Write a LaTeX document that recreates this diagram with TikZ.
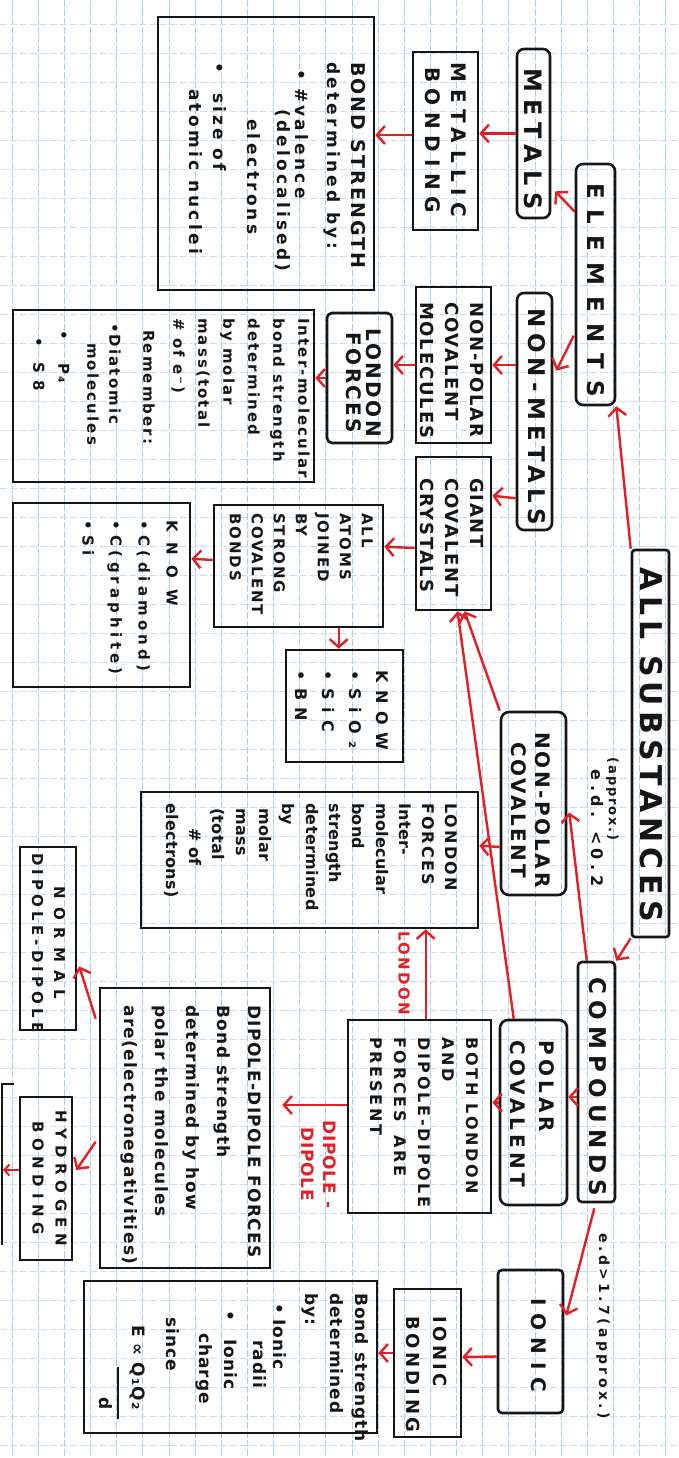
\documentclass[tikz,border=0pt]{standalone}
\usepackage{fontspec}
\setmainfont{DejaVu Sans}
\usetikzlibrary{arrows.meta,calc}
\definecolor{pen}{RGB}{22,22,22}
\definecolor{redpen}{RGB}{228,30,36}
\definecolor{gridblue}{RGB}{172,205,230}
\newcommand\hf[3]{\bfseries\fontsize{#1}{#2}\selectfont\addfontfeatures{LetterSpace=#3}}
\begin{document}
\begin{tikzpicture}[x=1pt,y=-1pt,
  box/.style={draw=pen,line width=2.6pt,inner sep=0pt},
  rbox/.style={box,rounded corners=6pt},
  txt/.style={rotate=-90,inner sep=0pt,text=pen},
  ltxt/.style={txt,align=left,anchor=north west},
  ctxt/.style={txt,align=center},
  arr/.style={draw=redpen,line width=2.4pt,-{Straight Barb[length=8pt,width=18pt]}},
  sarr/.style={draw=redpen,line width=2pt,-{Straight Barb[length=5pt,width=11pt]}},
  lbl/.style={rotate=-90,inner sep=0pt,text=redpen},
  gridv/.style={draw=gridblue,line width=0.8pt,dash pattern=on 7pt off 2pt},
  gridh/.style={draw=gridblue!65,line width=0.6pt,dash pattern=on 7pt off 3pt}]
% paper
\fill[white] (0,0) rectangle (678,1458);
\useasboundingbox (0,0) rectangle (678,1458);
\foreach \i in {0,...,25} \draw[gridv] ({12+26.15*\i},0) -- ({12+26.15*\i},1458);
\foreach \j in {0,...,49} \draw[gridh] (0,{24+29*\j}) -- (678,{24+29*\j});

% ---------- boxes ----------
\node[box,rounded corners=3pt,minimum width=37pt,minimum height=387pt] (allsub) at (650.5,743.5) {};
\node[rbox,rounded corners=7pt,minimum width=39pt,minimum height=241pt] (elements) at (595.5,284.5) {};
\node[box,rounded corners=4pt,minimum width=37pt,minimum height=240pt] (compounds) at (596.5,1082) {};
\node[rbox,rounded corners=7pt,minimum width=33pt,minimum height=169pt] (metals) at (533.5,133.5) {};
\node[rbox,rounded corners=7pt,minimum width=35pt,minimum height=237pt] (nonmetals) at (534.5,411.5) {};
\node[box,minimum width=65pt,minimum height=178pt] (metbond) at (445.5,141) {};
\node[box,minimum width=216pt,minimum height=273pt] (bondstr) at (266,153.5) {};
\node[box,minimum width=75pt,minimum height=156pt] (npcm) at (453.5,365) {};
\node[rbox,rounded corners=5pt,minimum width=65pt,minimum height=130pt] (london1) at (359.5,378) {};
\node[box,minimum width=301pt,minimum height=172pt] (inter) at (163.5,396) {};
\node[box,minimum width=75pt,minimum height=153pt] (giant) at (453.5,533.5) {};
\node[box,minimum width=169pt,minimum height=122pt] (allatoms) at (298.5,566) {};
\node[box,minimum width=177pt,minimum height=184pt] (know1) at (101.5,595) {};
\node[box,minimum width=117pt,minimum height=112pt] (know2) at (344.5,706) {};
\node[rbox,rounded corners=8pt,minimum width=65pt,minimum height=183pt] (nonpolcov) at (533.5,803.5) {};
\node[box,minimum width=337pt,minimum height=136pt] (london2) at (309.5,860) {};
\node[box,minimum width=143pt,minimum height=193pt] (both) at (419.5,1116.5) {};
\node[rbox,rounded corners=8pt,minimum width=67pt,minimum height=185pt] (polcov) at (533.5,1112.5) {};
\node[box,minimum width=170pt,minimum height=280pt] (dipole) at (185,1128) {};
\node[box,minimum width=56pt,minimum height=183pt] (normal) at (48,938.5) {};
\node[box,minimum width=52pt,minimum height=163pt] (hydrogen) at (46,1178.5) {};
\node[box,rounded corners=4pt,minimum width=65pt,minimum height=143pt] (ionic) at (530.5,1341.5) {};
\node[box,minimum width=67pt,minimum height=148pt] (ionbond) at (427.5,1363) {};
\node[box,minimum width=293pt,minimum height=152pt] (ionbs) at (230.5,1357) {};
% cut-off box at the left edge
\draw[draw=pen,line width=2.6pt] (14,1084) -- (2,1084) -- (2,1245);

% ---------- texts ----------
\node[txt,font=\hf{30}{30}{17}] (allsubT) at (651,745) {ALL SUBSTANCES};
\node[txt,font=\hf{23}{23}{48}] (elementsT) at (595.5,290) {ELEMENTS};
\node[txt,font=\hf{23}{23}{27}] (compoundsT) at (597.5,1087) {COMPOUNDS};
\node[txt,font=\hf{24}{24}{30}] (metalsT) at (533.5,139) {METALS};
\node[txt,font=\hf{23}{23}{23}] (nonmetalsT) at (536.5,417) {NON-METALS};
\node[ctxt,font=\hf{20}{26}{33}] (metbondT) at (446,140) {METALLIC\\BONDING};
\node[ltxt,font=\hf{17}{27}{19}] (bondstrT) at (366,62) {{\fontsize{19}{27}\selectfont\addfontfeatures{LetterSpace=11}BOND STRENGTH}\\[-3pt]
determined\hspace{10pt}by:\\[5pt]
\hspace*{7pt}•\hspace{8pt}\#valence\\[-9pt]
\hspace*{47pt}(delocalised)\\[3pt]
\hspace*{57pt}electrons\\[7pt]
•\hspace{20pt}size\hspace{8pt}of\\[-3pt]
\hspace*{27pt}atomic\hspace{10pt}nuclei};
\node[ltxt,font=\hf{18}{25}{10}] (npcmT) at (484,302) {NON-POLAR\\COVALENT\\MOLECULES};
\node[ltxt,font=\hf{18}{25}{10}] (giantT) at (484,478) {GIANT\\COVALENT\\CRYSTALS};
\node[ctxt,font=\hf{20}{20}{12}] (london1T) at (363.5,383) {LONDON\\FORCES};
\node[ltxt,font=\hf{15}{25}{14}] (interT) at (310,318) {Inter-molecular\\
bond strength\\
determined\\
by molar\\
mass(total\\
\# of e⁻)\\[5pt]
\hspace*{12pt}Remember:\\[9pt]
\hspace*{5pt}•Diatomic\\[-3pt]
\hspace*{25pt}molecules\\[4pt]
\hspace*{12pt}•\hspace{24pt}P₄\\
\hspace*{19pt}•\hspace{16pt}S 8};
\node[ltxt,font=\hf{15}{22}{13}] (allatomsT) at (373,513) {ALL\\ATOMS\\JOINED\\BY\\STRONG\\COVALENT\\BONDS};
\node[ltxt,font=\hf{15}{28}{28}] (know1T) at (178,520) {{\addfontfeatures{LetterSpace=72}KNOW}\\
•\hspace{6pt}C(diamond)\\
•\hspace{6pt}C(graphite)\\
•\hspace{6pt}Si};
\node[ltxt,font=\hf{16}{27}{48}] (know2T) at (389,670) {KNOW\\•SiO₂\\•SiC\\•BN};
\node[ctxt,font=\hf{20}{24}{13}] (nonpolcovT) at (531,810) {NON-POLAR\\COVALENT};
\node[ltxt,font=\hf{16}{23.3}{2}] (london2T) at (458,803) {{\addfontfeatures{LetterSpace=13}LONDON}\\
{\addfontfeatures{LetterSpace=13}FORCES}\\
Inter-\\
molecular\\
bond\\
strength\\
determined\\
by\\
\hspace*{5pt}molar\\
\hspace*{5pt}mass\\
\hspace*{5pt}(total\\
\hspace*{25pt}\# of\\
electrons)};
\node[ltxt,font=\hf{16}{24}{17}] (bothT) at (479,1037) {BOTH LONDON\\AND\\DIPOLE-DIPOLE\\FORCES\hspace{14pt}ARE\\PRESENT};
\node[ltxt,font=\hf{20}{29}{21}] (polcovT) at (555,1040) {POLAR\\COVALENT};
\node[ltxt,font=\hf{17}{31}{8}] (dipoleT) at (261,1005) {DIPOLE-DIPOLE FORCES\\Bond strength\\determined by how\\polar the molecules\\are(electronegativities)};
\node[ctxt,font=\hf{15}{22}{28}] (normalT) at (48.5,943) {{\addfontfeatures{LetterSpace=53}NORMAL}\\DIPOLE-DIPOLE};
\node[ctxt,font=\hf{15}{23}{38}] (hydrogenT) at (49.5,1178) {HYDROGEN\\BONDING};
\node[txt,font=\hf{20}{20}{38}] (ionicT) at (539,1345) {IONIC};
\node[ltxt,font=\hf{18}{27}{19}] (ionbondT) at (447,1316) {IONIC\\BONDING};
\node[ltxt,font=\hf{17}{25}{6}] (ionbsT) at (369,1293) {Bond strength\\
determined\\
by:\\[7pt]
\hspace*{10pt}•\hspace{5pt}Ionic\\[-5pt]
\hspace*{47pt}radii\\[4pt]
\hspace*{17pt}•\hspace{18pt}Ionic\\
\hspace*{40pt}charge\\[8pt]
\hspace*{24pt}since\\[9pt]
\hspace*{32pt}E ∝ Q₁Q₂\\[-9.5pt]
\hspace*{74pt}\rule{52pt}{1.8pt}\\[-7pt]
\hspace*{104pt}d};
% labels
\node[txt,font=\hf{13}{13}{14}] (approxA) at (612.5,799) {(approx.)};
\node[txt,font=\hf{16}{16}{28}] (approxB) at (597,828) {e.d. <0.2};
\node[txt,font=\hf{14}{14}{24}] (edL) at (603,1326) {e.d>1.7(approx.)};
\node[lbl,font=\hf{15}{15}{15}] (londonL) at (404,973) {LONDON};
\node[lbl,align=left,anchor=north west,font=\hf{17}{22}{5}] (dipoleL) at (336,1120) {DIPOLE -\\\hspace*{7pt}DIPOLE};

% ---------- connectors ----------
\draw[arr] (allsub.north west) -- (elements.south east);
\draw[arr] (allsub.south west) -- (compounds.north east);
\draw[arr] ($(elements.north west)+(0,49)$) -- ($(metals.south east)+(4,-28)$);
\draw[arr] ($(elements.north west)+(-1,173)$) -- ($(nonmetals.north east)+(3,79)$);
\draw[arr] (metals.west) -- (metals.west -| metbond.east);
\draw[arr] ($(metbond.west)+(0,-6)$) -- ($(bondstr.east)+(0,-18.5)$);
\draw[arr] (npcm.east -| nonmetals.west) -- (npcm.east);
\draw[arr] (npcm.west) -- (npcm.west -| london1.east);
\draw[arr] (london1.west) -- (london1.west -| inter.east);
\draw[arr] ($(nonmetals.south west)+(0,-33)$) -- ($(giant.north east)+(0,40)$);
\draw[arr] ($(giant.west)+(0,14.5)$) -- ($(allatoms.north east)+(0,43)$);
\draw[arr] ($(allatoms.west)+(0,-6)$) -- ($(know1.north east)+(0,57)$);
\draw[arr] ($(allatoms.south west)+(126,0)$) -- ($(know2.north west)+(54,0)$);
\draw[arr] (nonpolcov.north west) -- ($(giant.south)+(11,0)$);
\draw[arr] ($(polcov.north west)+(15,0)$) -- ($(giant.south)+(4,0)$);
\draw[arr] ($(compounds.north west)+(10,0)$) -- ($(nonpolcov.east)+(2,9)$);
\draw[arr] ($(nonpolcov.west)+(0,43.5)$) -- ($(london2.north east)+(0,55)$);
\draw[arr] ($(both.north west)+(79,0)$) -- ($(london2.south west)+(286,0)$);
\draw[arr] ($(compounds.west)+(0,15)$) -- ($(polcov.east)+(0,-15.5)$);
\draw[arr] ($(polcov.west)+(0,-10)$) -- ($(both.east)+(0,-14)$);
\draw[arr] ($(both.west)+(0,-11.5)$) -- ($(dipole.east)+(11,-23)$);
\draw[arr] ($(dipole.north west)+(-3,32)$) -- ($(normal.east)+(2,28)$);
\draw[arr] ($(dipole.north west)+(-3,155)$) -- ($(hydrogen.east)+(3,-8.5)$);
\coordinate (hoff) at (3,1170);
\draw[sarr] ($(hydrogen.west)+(0,-8.5)$) -- (hoff);
\draw[arr] ($(compounds.south east)+(-22,5)$) -- ($(ionic.east)+(2,-26)$);
\draw[arr] ($(ionic.west)+(0,15)$) -- ($(ionbond.east)+(0,-6)$);
\draw[arr] ($(ionbond.west)+(0,-10)$) -- ($(ionbs.east)+(0,-4)$);
\end{tikzpicture}
\end{document}
